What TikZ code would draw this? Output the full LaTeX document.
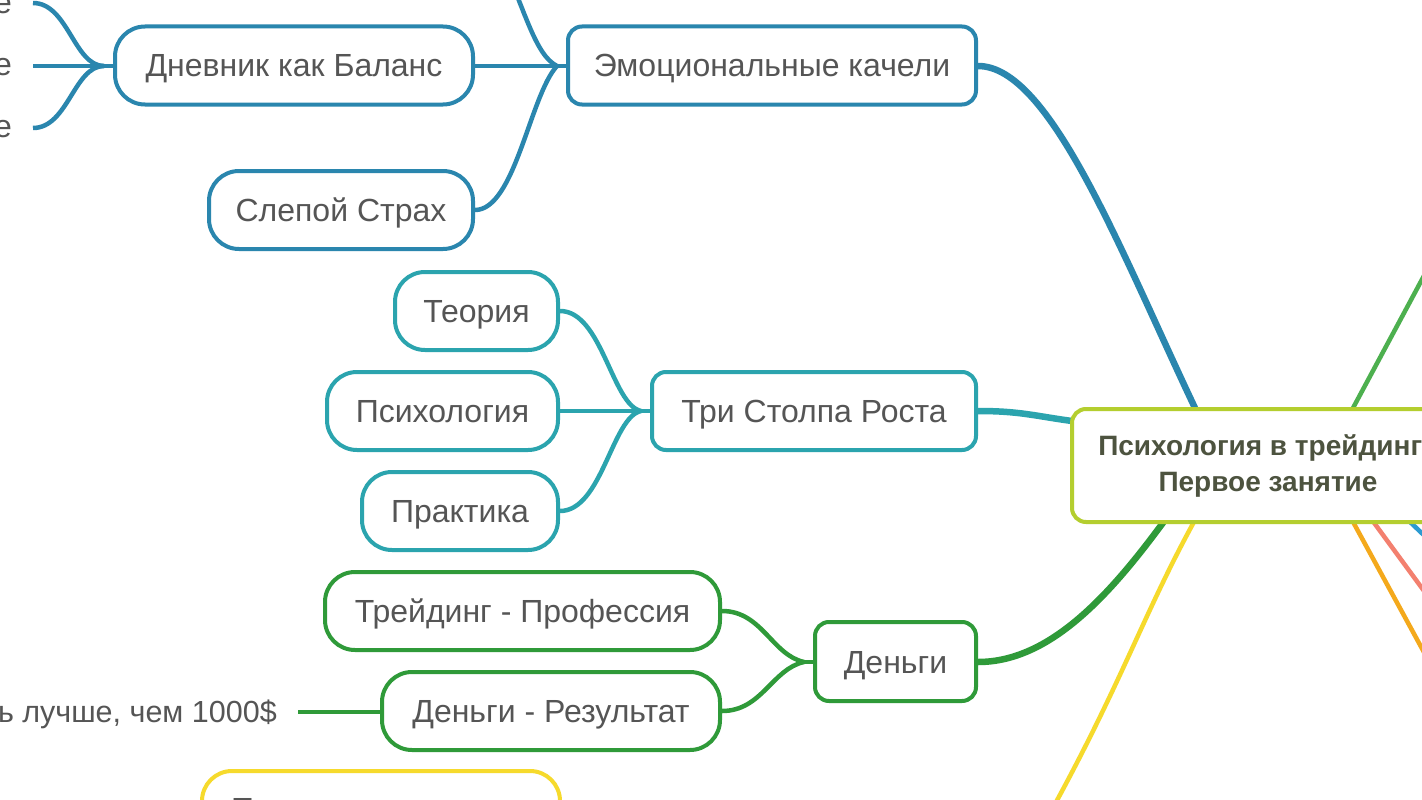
\documentclass[tikz,border=0pt]{standalone}
\usepackage{fontspec}
\setmainfont{Liberation Sans}
\definecolor{cBlue}{HTML}{2A86AE}
\definecolor{cTeal}{HTML}{2BA4AE}
\definecolor{cGreen}{HTML}{2F9A39}
\definecolor{cLime}{HTML}{B4CE2F}
\definecolor{cYellow}{HTML}{F6DA2C}
\definecolor{cLGreen}{HTML}{4DB04F}
\definecolor{cOrange}{HTML}{F4A91C}
\definecolor{cSalmon}{HTML}{F3806F}
\definecolor{cSky}{HTML}{2C9BD1}
\definecolor{cText}{HTML}{555555}
\definecolor{cMain}{HTML}{4D533F}
\tikzset{
  topic/.style={draw, line width=4pt, rounded corners=#1, fill=white, text=cText,
    font=\fontsize{32}{38}\selectfont, align=center, inner sep=0pt,
    text height=23pt, text depth=0pt},
  topic/.default=30pt,
  leaf/.style={text=cText, font=\fontsize{32}{38}\selectfont, inner sep=0pt},
  sub/.style={line width=4.5pt},
  main/.style={line width=6.5pt},
}
\begin{document}
\begin{tikzpicture}[x=1pt,y=-1pt]
\useasboundingbox (0,0) rectangle (1422,800);
\clip (0,0) rectangle (1422,800);
\fill[white] (0,0) rectangle (1422,800);

% coordinates
\coordinate (jdn) at (104,66);
\coordinate (jem) at (557,66);
\coordinate (jts) at (641,411);
\coordinate (jdg) at (804,662);
\coordinate (topin) at (500,-45);
\coordinate (yend) at (1035,840);
\coordinate (gtop) at (1470,190);
\coordinate (oend) at (1450,700);
\coordinate (send) at (1460,640);
\coordinate (bend) at (1450,560);

% connectors (drawn first)
\draw[cBlue, sub] (33,3) .. controls (68,3) and (74,66) .. (jdn);
\draw[cBlue, sub] (33,66) -- (jdn);
\draw[cBlue, sub] (33,128) .. controls (68,128) and (74,66) .. (jdn);
\draw[cBlue, sub] (jdn) -- (113,66);

\draw[cBlue, sub] (topin) .. controls (525,10) and (535,55) .. (jem);
\draw[cBlue, sub] (475,66) -- (jem);
\draw[cBlue, sub] (475,210) .. controls (515,210) and (530,95) .. (jem);
\draw[cBlue, sub] (jem) -- (566,66);

\draw[cTeal, sub] (560,311) .. controls (602,311) and (612,405) .. (jts);
\draw[cTeal, sub] (560,411) -- (jts);
\draw[cTeal, sub] (560,511) .. controls (602,511) and (612,417) .. (jts);
\draw[cTeal, sub] (jts) -- (650,411);

\draw[cGreen, sub] (722,611) .. controls (762,611) and (772,655) .. (jdg);
\draw[cGreen, sub] (722,711) .. controls (762,711) and (772,669) .. (jdg);
\draw[cGreen, sub] (jdg) -- (813,662);
\draw[cGreen, sub] (298,712) -- (380,712);

\draw[cBlue, main] (978,66) .. controls (1050,66) and (1120,250) .. (1195,408);
\draw[cTeal, main] (978,411) .. controls (1020,411) and (1035,416) .. (1072,421);
\draw[cGreen, main] (978,662) .. controls (1050,662) and (1110,595) .. (1165,520);
\draw[cYellow, sub] (1195,520) .. controls (1140,620) and (1120,690) .. (yend);
\draw[cLGreen, sub] (1353,408) -- (gtop);
\draw[cOrange, sub] (1352,520) -- (oend);
\draw[cSalmon, sub] (1372,520) -- (send);
\draw[cSky, sub] (1408,520) -- (bend);

% nodes
\node[topic, draw=cBlue, minimum width=358, minimum height=78] (dn) at (294,65.5) {Дневник как Баланс};
\node[topic=14pt, draw=cBlue, minimum width=408, minimum height=78] (em) at (772,65.5) {Эмоциональные качели};
\node[topic, draw=cBlue, minimum width=264, minimum height=78] (sl) at (341,210) {Слепой Страх};
\node[topic, draw=cTeal, minimum width=163, minimum height=78] (te) at (476.5,311) {Теория};
\node[topic, draw=cTeal, minimum width=231, minimum height=78] (ps) at (442.5,411) {Психология};
\node[topic, draw=cTeal, minimum width=196, minimum height=78] (pr) at (460,511) {Практика};
\node[topic=14pt, draw=cTeal, minimum width=324, minimum height=78] (ts) at (814,411) {Три Столпа Роста};
\node[topic, draw=cGreen, minimum width=395, minimum height=78] (tp) at (522.5,611) {Трейдинг - Профессия};
\node[topic, draw=cGreen, minimum width=338, minimum height=78] (dr) at (551,711) {Деньги - Результат};
\node[topic=14pt, draw=cGreen, minimum width=161, minimum height=79] (dg) at (895.5,661.5) {Деньги};
\node[topic=14pt, draw=cLime, minimum width=392, minimum height=113, text=cMain,
  text height=, text depth=, font=\fontsize{28}{36}\selectfont\bfseries] (ct) at (1268,465.5) {Психология в трейдинге\\Первое занятие};
\node[topic, draw=cYellow, minimum width=358, minimum height=78] (ye) at (381,810) {};
\node[leaf, anchor=north west] (yt) at (231,798) {П};

% leaves
\node[leaf, anchor=east] (l1) at (12,5) {е};
\node[leaf, anchor=east] (l2) at (12,67) {е};
\node[leaf, anchor=east] (l3) at (12,129) {е};
\node[leaf, anchor=east, font=\fontsize{30.5}{36}\selectfont] (l4) at (277,714) {ь лучше, чем 1000\$};
\end{tikzpicture}
\end{document}
